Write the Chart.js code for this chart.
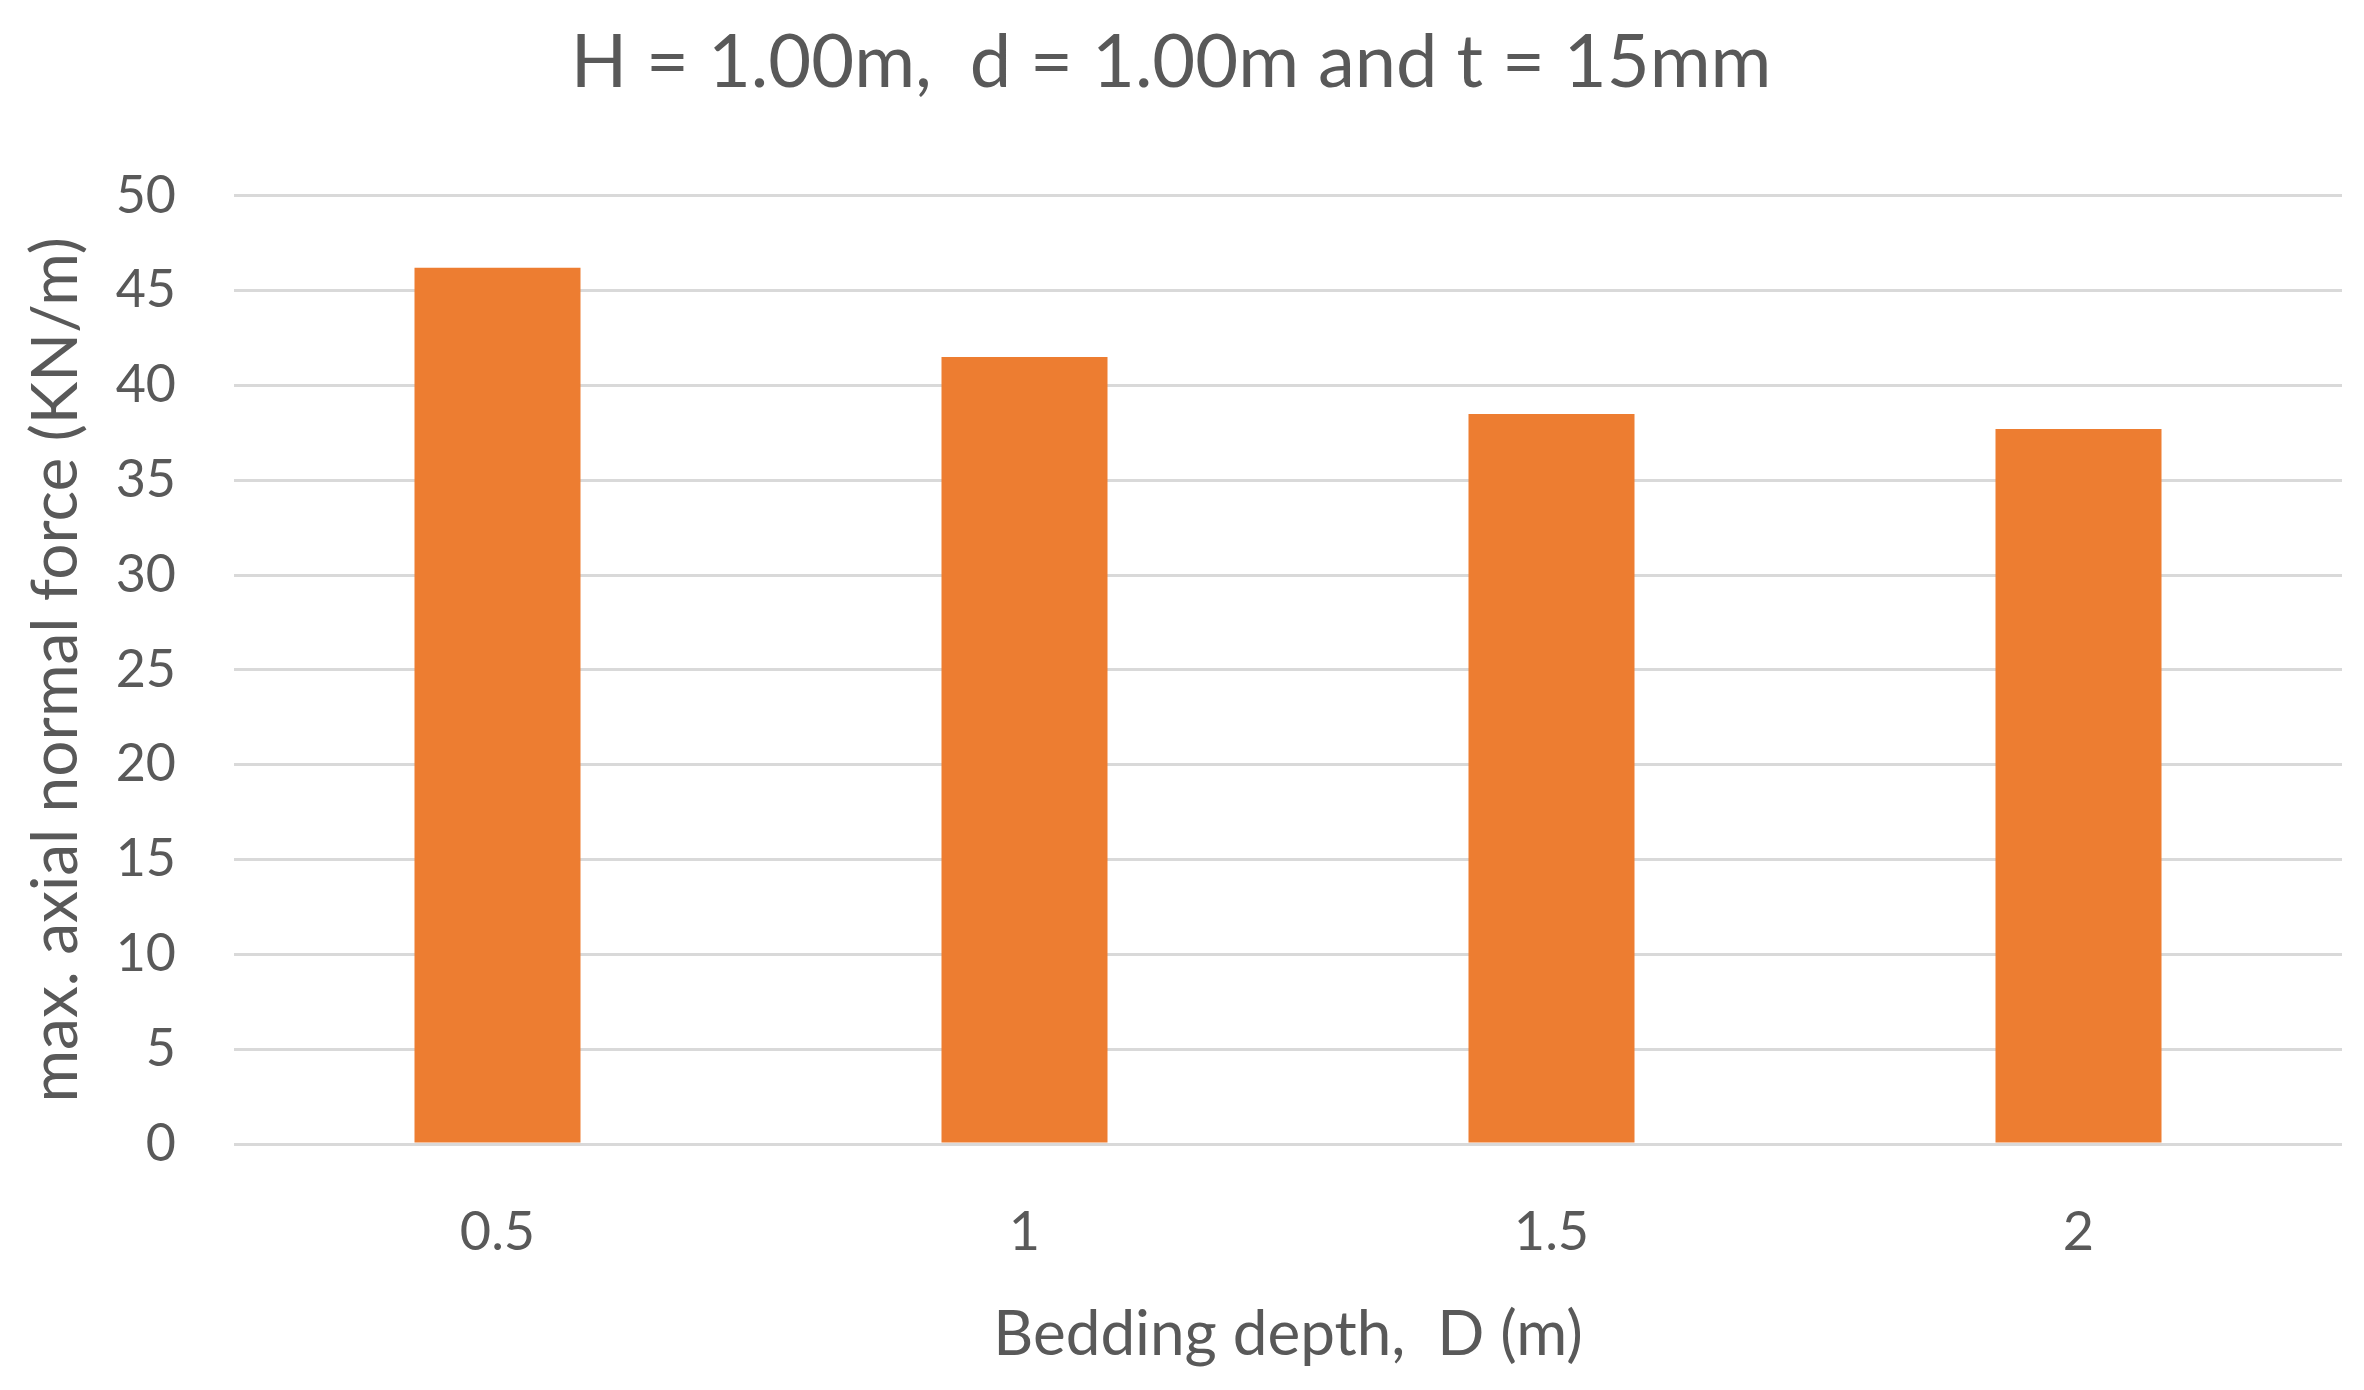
<!DOCTYPE html>
<html>
<head>
<meta charset="utf-8">
<script src="https://cdn.jsdelivr.net/npm/chart.js@4"></script>
<style>
  html, body { margin: 0; padding: 0; background: #fff; }
  #wrap { width: 2364px; height: 1390px; }
</style>
</head>
<body>
<div id="wrap"><canvas id="barChart" width="2364" height="1390"></canvas></div>
<script>
const depths = ['0.5', '1', '1.5', '2'];
const maxForce = [46.2, 41.5, 38.5, 37.7];
const yTicks = [0, 5, 10, 15, 20, 25, 30, 35, 40, 45, 50];

const textColor = '#595959';
const fontFamily = 'Lato, "Open Sans", sans-serif';

const ctx = document.getElementById('barChart').getContext('2d');
new Chart(ctx, {
  type: 'bar',
  data: {
    labels: depths,
    datasets: [{
      label: 'max. axial normal force',
      data: maxForce,
      backgroundColor: '#ED7D31',
      barPercentage: 0.315,
      categoryPercentage: 1
    }]
  },
  options: {
    responsive: false,
    animation: false,
    layout: { padding: { left: 0, right: 22, top: 0, bottom: 0 } },
    plugins: {
      legend: { display: false },
      tooltip: { enabled: false },
      title: {
        display: true,
        text: 'H = 1.00m,  d = 1.00m and t = 15mm',
        color: textColor,
        font: { family: fontFamily, size: 74, weight: 'normal', lineHeight: 1.2 },
        padding: { top: 19, bottom: 88 }
      }
    },
    scales: {
      x: {
        grid: { display: false },
        border: { display: false },
        ticks: {
          color: textColor,
          font: { family: fontFamily, size: 54 },
          padding: 48
        },
        title: {
          display: true,
          text: 'Bedding depth,  D (m)',
          color: textColor,
          font: { family: fontFamily, size: 62 },
          padding: { top: 0, bottom: 18 }
        },
        afterFit: scale => { scale.height = 246; }
      },
      y: {
        min: 0,
        max: 50,
        afterBuildTicks: scale => { scale.ticks = yTicks.map(v => ({ value: v })); },
        grid: { color: '#D9D9D9', lineWidth: 3, drawTicks: false },
        border: { display: false },
        ticks: {
          color: textColor,
          font: { family: fontFamily, size: 52 },
          padding: 58
        },
        title: {
          display: true,
          text: 'max. axial normal force (KN/m)',
          color: textColor,
          font: { family: fontFamily, size: 64 },
          padding: { top: 18, bottom: 0 }
        },
        afterFit: scale => { scale.width = 234; }
      }
    }
  }
});
</script>
</body>
</html>
